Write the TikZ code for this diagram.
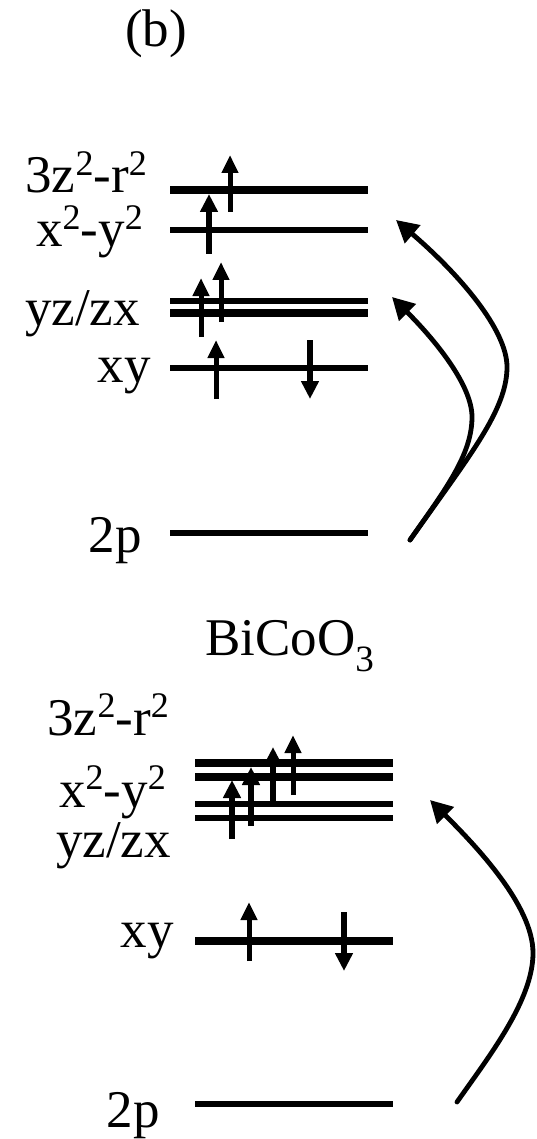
\documentclass[tikz,border=0pt]{standalone}
\usepackage{fontspec}
\setmainfont{Liberation Serif}
\usetikzlibrary{arrows.meta}
\newcommand{\supt}{\raisebox{0.33em}{\fontsize{36}{36}\selectfont 2}}
\begin{document}
\begin{tikzpicture}[x=1pt,y=-1pt,
  lbl/.style={anchor=base east, inner sep=0pt, font=\fontsize{53}{60}\selectfont},
  lvlthick/.style={line width=8pt},
  lvl/.style={line width=6pt},
  spin/.style={line width=6pt, -{Triangle[width=17pt,length=18pt]}},
  spinthin/.style={line width=5pt, -{Triangle[width=16pt,length=18pt]}},
  exc/.style={line width=4.8pt, -{Triangle[width=23pt,length=22pt]}, line cap=round}]
\useasboundingbox (0,0) rectangle (537,1139);
% ---------- top panel ----------
\node[lbl, anchor=base] (b) at (156,47) {(b)};
\node[lbl] (la1) at (147,193) {3z\supt-r\supt};
\node[lbl] (la2) at (143,247) {x\supt-y\supt};
\node[lbl] (la3) at (140,325) {yz/zx};
\node[lbl] (la4) at (151,382) {xy};
\node[lbl] (la5) at (142,552) {2p};
\coordinate (a1l) at (170,190); \coordinate (a1r) at (368,190);
\coordinate (a2l) at (170,230); \coordinate (a2r) at (368,230);
\coordinate (a3l) at (170,301); \coordinate (a3r) at (368,301);
\coordinate (a4l) at (170,313); \coordinate (a4r) at (368,313);
\coordinate (a5l) at (170,368); \coordinate (a5r) at (368,368);
\coordinate (a6l) at (170,533); \coordinate (a6r) at (368,533);
\draw[lvlthick] (a1l) -- (a1r);
\draw[lvl] (a2l) -- (a2r);
\draw[lvl] (a3l) -- (a3r);
\draw[lvlthick] (a4l) -- (a4r);
\draw[lvl] (a5l) -- (a5r);
\draw[lvl] (a6l) -- (a6r);
\draw[spinthin] (230,212) -- (230,155);
\draw[spin] (209,254) -- (209,194);
\draw[spinthin] (201,337) -- (201,278);
\draw[spinthin] (221,322) -- (221,262);
\draw[spinthin] (216,399) -- (216,340);
\draw[spin] (310,340) -- (310,399);
\coordinate (as) at (410,540);
\coordinate (ap1) at (507,367);
\coordinate (at1) at (396,220);
\coordinate (ap2) at (472,417);
\coordinate (at2) at (392,297);
\draw[exc] (as) .. controls (470,455) and (507,410) .. (ap1)
               .. controls (507,330) and (460,275) .. (at1);
\draw[exc] (as) .. controls (445,490) and (472,455) .. (ap2)
               .. controls (472,385) and (435,340) .. (at2);
% ---------- bottom panel ----------
\node[lbl, anchor=base west] (formula) at (205,655) {BiCoO\textsubscript{3}};
\node[lbl] (lb1) at (169,735) {3z\supt-r\supt};
\node[lbl] (lb2) at (166,807) {x\supt-y\supt};
\node[lbl] (lb3) at (171,857) {yz/zx};
\node[lbl] (lb4) at (174,947) {xy};
\node[lbl] (lb5) at (160,1127) {2p};
\coordinate (b1l) at (195,763); \coordinate (b1r) at (393,763);
\coordinate (b2l) at (195,777); \coordinate (b2r) at (393,777);
\coordinate (b3l) at (195,804); \coordinate (b3r) at (393,804);
\coordinate (b4l) at (195,818); \coordinate (b4r) at (393,818);
\coordinate (b5l) at (195,941); \coordinate (b5r) at (393,941);
\coordinate (b6l) at (195,1104); \coordinate (b6r) at (393,1104);
\draw[lvlthick] (b1l) -- (b1r);
\draw[lvlthick] (b2l) -- (b2r);
\draw[lvl] (b3l) -- (b3r);
\draw[lvl] (b4l) -- (b4r);
\draw[lvlthick] (b5l) -- (b5r);
\draw[lvl] (b6l) -- (b6r);
\draw[spin] (232,839) -- (232,780);
\draw[spin] (251,826) -- (251,767);
\draw[spin] (273,803) -- (273,747);
\draw[spinthin] (293,795) -- (293,735);
\draw[spinthin] (249,961) -- (249,902);
\draw[spin] (344,912) -- (344,971);
\coordinate (bs) at (457,1102);
\coordinate (bp) at (533,953);
\coordinate (bt) at (430,800);
\draw[exc] (bs) .. controls (490,1055) and (533,1000) .. (bp)
               .. controls (533,905) and (475,845) .. (bt);
\end{tikzpicture}
\end{document}
